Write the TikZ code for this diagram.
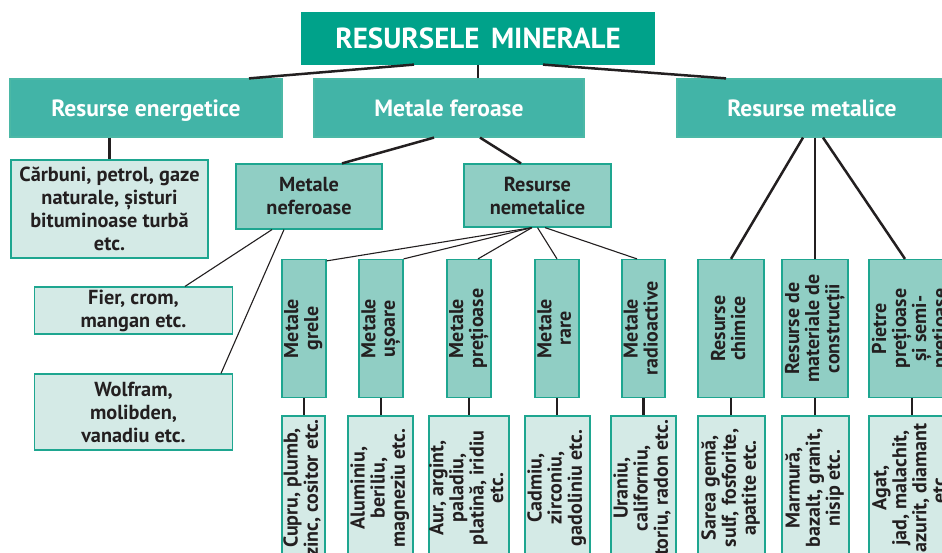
\documentclass[tikz,border=0pt]{standalone}
\usepackage{fontspec}
\setmainfont{PT Sans}
\usetikzlibrary{calc}
\definecolor{cTitle}{HTML}{00A28A}
\definecolor{cLev}{HTML}{42B4A7}
\definecolor{cMed}{HTML}{90CEC4}
\definecolor{cLight}{HTML}{D4EAE6}
\definecolor{cBord}{HTML}{1EA690}
\definecolor{cLine}{HTML}{231F20}
\newcommand\vtext[1]{\rotatebox{90}{\begin{tabular}{@{}c@{}}#1\end{tabular}}}
\begin{document}
\begin{tikzpicture}[x=1pt,y=-1pt,
  base/.style={draw=cBord, line width=1.2pt, inner sep=0pt, text=cLine, align=center,
    font=\bfseries\fontsize{20.3}{23}\selectfont},
  titlebox/.style={base, fill=cTitle, draw=cTitle, text=white,
    font=\bfseries\fontsize{29}{32}\selectfont},
  levbox/.style={base, fill=cLev, draw=cBord!80!white, text=white, text depth=0pt,
    font=\bfseries\fontsize{23.5}{26}\selectfont},
  medbox/.style={base, fill=cMed},
  lightbox/.style={base, fill=cLight},
  vmed/.style={medbox, font=\bfseries\fontsize{20}{19.5}\selectfont, minimum height=138},
  vlight/.style={lightbox, font=\bfseries\fontsize{20}{19.5}\selectfont, minimum height=144},
  heavyline/.style={draw=cLine, line width=2.5pt},
  lightline/.style={draw=cLine, line width=1.1pt},
]
\useasboundingbox (0,0) rectangle (942,553);
\fill[white] (0,0) rectangle (942,553);
\clip (0,0) rectangle (942,553);

% top levels
\node[titlebox, minimum width=352, minimum height=51] (top) at (478,38.5) {RESURSELE\hspace{0.4em}MINERALE};
\node[levbox, minimum width=272, minimum height=58] (ener) at (146,108) {Resurse energetice};
\node[levbox, minimum width=270, minimum height=58] (fer) at (449,108) {Metale feroase};
\node[levbox, minimum width=270, minimum height=58] (met) at (812,108) {Resurse metalice};

% second level
\node[lightbox, minimum width=197, minimum height=98] (carb) at (109.5,209) {Cărbuni, petrol, gaze\\naturale, șisturi\\bituminoase turbă\\etc.};
\node[medbox, minimum width=146, minimum height=65] (nefer) at (309,196.5) {Metale\\neferoase};
\node[medbox, minimum width=147, minimum height=63] (nemet) at (537.5,195.5) {Resurse\\nemetalice};
\node[lightbox, minimum width=198, minimum height=47] (fier) at (133.5,310.5) {Fier, crom,\\mangan etc.};
\node[lightbox, minimum width=198, minimum height=76] (wolf) at (133.5,412) {Wolfram,\\molibden,\\vanadiu etc.};

% vertical category boxes
\node[vmed, minimum width=44] (grele) at (304,328.5) {\vtext{Metale\\grele}};
\node[vmed, minimum width=44] (usoare) at (381,328.5) {\vtext{Metale\\ușoare}};
\node[vmed, minimum width=44] (pret) at (469,328.5) {\vtext{Metale\\prețioase}};
\node[vmed, minimum width=44] (rare) at (557,328.5) {\vtext{Metale\\rare}};
\node[vmed, minimum width=43] (radio) at (643.5,328.5) {\vtext{Metale\\radioactive}};
\node[vmed, minimum width=66] (chim) at (731,328.5) {\vtext{Resurse\\chimice}};
\node[vmed, minimum width=66] (constr) at (815,328.5) {\vtext{Resurse de\\materiale de\\construcții}};
\node[vmed, minimum width=86] (pietre) at (912,328.5) {\vtext{Pietre\\prețioase\\și semi-\\prețioase}};

% bottom example boxes
\node[vlight, minimum width=43] (cupru) at (303.5,488) {\vtext{Cupru, plumb,\\zinc, cositor etc.}};
\node[vlight, minimum width=65] (alum) at (380.5,488) {\vtext{Aluminiu,\\beriliu,\\magneziu etc.}};
\node[vlight, minimum width=80] (aur) at (469,488) {\vtext{Aur, argint,\\paladiu,\\platină, iridiu\\etc.}};
\node[vlight, minimum width=65] (cadm) at (557.5,488) {\vtext{Cadmiu,\\zirconiu,\\gadoliniu etc.}};
\node[vlight, minimum width=65] (uran) at (643.5,488) {\vtext{Uraniu,\\californiu,\\toriu, radon etc.}};
\node[vlight, minimum width=67] (sarea) at (731.5,488) {\vtext{Sarea gemă,\\sulf, fosforite,\\apatite etc.}};
\node[vlight, minimum width=67] (marm) at (815.5,488) {\vtext{Marmură,\\bazalt, granit,\\nisip etc.}};
\node[vlight, minimum width=86] (agat) at (912,488) {\vtext{Agat,\\jad, malachit,\\azurit, diamant\\etc.}};

% connectors
\draw[heavyline] ([xshift=-64pt]top.south) -- ([xshift=103pt]ener.north);
\draw[heavyline] (top.south) -- (top.south |- fer.north);
\draw[heavyline] ([xshift=65pt]top.south) -- ([xshift=-86pt]met.north);
\draw[heavyline] (carb.north |- ener.south) -- (carb.north);
\draw[heavyline] ([xshift=-15pt]fer.south) -- ([xshift=33pt]nefer.north);
\draw[heavyline] ([xshift=31pt]fer.south) -- ([xshift=-16.5pt]nemet.north);
\draw[heavyline] ([xshift=-9pt]met.south) -- (chim.north);
\draw[heavyline] (constr.north |- met.south) -- (constr.north);
\draw[heavyline] ([xshift=11pt]met.south) -- ([xshift=-7pt]pietre.north);
\draw[lightline] ([xshift=-37pt]nefer.south) -- ([xshift=51.5pt]fier.north);
\draw[lightline] ([xshift=-25pt]nefer.south) -- ([xshift=87.5pt]wolf.north);
\draw[lightline] ([xshift=-5.5pt]nemet.south) -- ([yshift=-2pt]grele.north east);
\draw[lightline] ([xshift=-5.5pt]nemet.south) -- (usoare.north east);
\draw[lightline] ([xshift=-5.5pt]nemet.south) -- ([xshift=9pt]pret.north);
\draw[lightline] (nemet.south) -- (rare.north);
\draw[lightline] ([xshift=7.5pt]nemet.south) -- ([xshift=-6.5pt]radio.north);
\foreach \a/\b in {grele/cupru, usoare/alum, pret/aur, rare/cadm, radio/uran, chim/sarea, constr/marm, pietre/agat}
  \draw[heavyline] (\a.south) -- (\a.south |- \b.north);
\end{tikzpicture}
\end{document}
